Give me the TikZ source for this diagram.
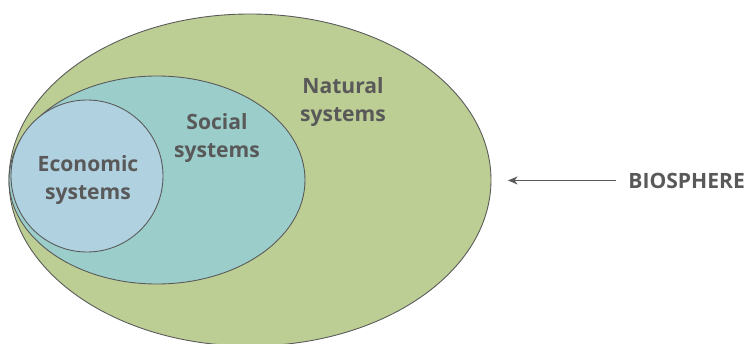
\documentclass[tikz,border=0pt]{standalone}
\usepackage{fontspec}
\setmainfont{Open Sans}
\usepackage{tikz}
\usetikzlibrary{arrows.meta}
\definecolor{natgreen}{HTML}{BCCE94}
\definecolor{socteal}{HTML}{9BCDCB}
\definecolor{ecoblue}{HTML}{B0D1E0}
\definecolor{labelgray}{HTML}{595959}
\tikzset{
  font={\fontsize{12pt}{16pt}\selectfont\bfseries}}

\begin{document}
\begin{tikzpicture}[scale=0.2]
\tikzstyle{every node}+=[inner sep=0pt, text=labelgray, align=center]
\useasboundingbox (0,0) rectangle (75,-34.4);
% nested systems, outermost first
\draw [labelgray, line width=0.5pt, fill=natgreen] (25,-18) ellipse (24.1 and 16.6);
\draw [labelgray, line width=0.5pt, fill=socteal] (15.7,-18) ellipse (14.8 and 10.4);
\draw [labelgray, line width=0.5pt, fill=ecoblue] (8.7,-17.6) circle (7.6);
\node (natural) at (34.3,-10.2) {Natural\\systems};
\node (social) at (21.7,-13.8) {Social\\systems};
\node (economic) at (8.8,-18) {Economic\\systems};
% label on the right pointing at the outer ellipse
\coordinate (tip) at (50.8,-18);
\node [anchor=base west] (bio) at (62.8,-18.8) {BIOSPHERE};
\draw [labelgray, line width=0.6pt, shorten <=6.8pt, -{Stealth[length=5.5pt,width=4.6pt]}] (bio.west) -- (bio.west -| tip);
\end{tikzpicture}
\end{document}
